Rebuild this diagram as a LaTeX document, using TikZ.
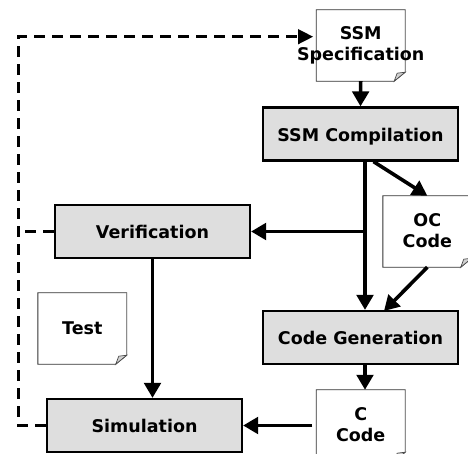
\documentclass[tikz,border=0pt]{standalone}
\usepackage{fontspec}
\setmainfont{DejaVu Sans}
\usetikzlibrary{arrows.meta,calc}
\tikzset{
  x=1pt,y=-1pt,
  box/.style={draw=black,line width=2.2pt,fill=black!13,minimum width=195pt,minimum height=53pt,inner sep=0pt,text height=16pt,text depth=1.2pt,font=\fontsize{17.5}{20}\bfseries},
  doc/.style={minimum width=88.5pt,minimum height=71pt,inner sep=0pt,font=\fontsize{17.5}{21}\bfseries,align=center},
  flow/.style={line width=3.6pt,-{Triangle[length=15pt,width=16.5pt]}},
  back/.style={line width=3.2pt,dash pattern=on 11pt off 7pt},
}
\newcommand{\docshape}[1]{%
  \draw[black!80,line width=.8pt,fill=white] (#1.north west) -- (#1.north east) -- ($(#1.south east)+(0,-9)$) -- ($(#1.south east)+(-11,0)$) -- (#1.south west) -- cycle;
  \draw[black!45,line width=.8pt] (#1.north east) -- ($(#1.south east)+(0,-9)$);
  \draw[black!70,line width=.7pt,fill=black!18] ($(#1.south east)+(0,-9)$) -- ($(#1.south east)+(-8,-8)$) -- ($(#1.south east)+(-11,0)$) -- cycle;
}
\begin{document}
\begin{tikzpicture}
\useasboundingbox (0,0) rectangle (468,454);
\clip (0,0) rectangle (468,453);
\path (360.7,45.5) node[doc] (spec) {} (427.3,231.5) node[doc] (oc) {} (360.7,425.5) node[doc] (cc) {} (82.3,328.5) node[doc] (test) {};
\docshape{spec}\docshape{oc}\docshape{cc}\docshape{test}
\node[doc] at (360.7,45.5) {SSM\\[0pt]Specification};
\node[doc] at (427.3,230.5) {OC\\[0pt]Code};
\node[doc] at (360.7,425) {C\\[0pt]Code};
\node[doc] at (82.3,328) {Test};
\node[box] (comp) at (360.5,134) {SSM Compilation};
\node[box] (gen) at (360.5,337.5) {Code Generation};
\node[box] (ver) at (152.5,231.5) {Verification};
\node[box] (sim) at (144.5,425.5) {Simulation};
\coordinate (drop) at (365,0);
\coordinate (rail) at (18.5,0);
\coordinate (junction) at (drop |- ver.east);
\coordinate (ocin) at (384,311);
\coordinate (arrive) at (313,36.7);
\draw[flow] (spec.south) -- (comp.north);
\draw[flow] (drop |- comp.south) -- (drop |- gen.north);
\draw[flow] ([xshift=13pt]comp.south) -- (oc.north);
\draw[flow] (oc.south) -- (ocin);
\draw[flow] (junction) -- (ver.east);
\draw[flow] (drop |- gen.south) -- (drop |- cc.north);
\draw[flow] ([xshift=-4pt]cc.west) -- (sim.east);
\draw[flow] (ver.south) -- (ver.south |- sim.north);
\draw[back] (ver.west) -- (rail |- ver.west);
\draw[back] (sim.west) -- (rail |- sim.west) -- (rail |- arrive) -- ([xshift=-14pt]arrive);
\fill[black] (arrive) -- ++(-15,-7.7) -- ++(0,15.4) -- cycle;
\end{tikzpicture}
\end{document}
